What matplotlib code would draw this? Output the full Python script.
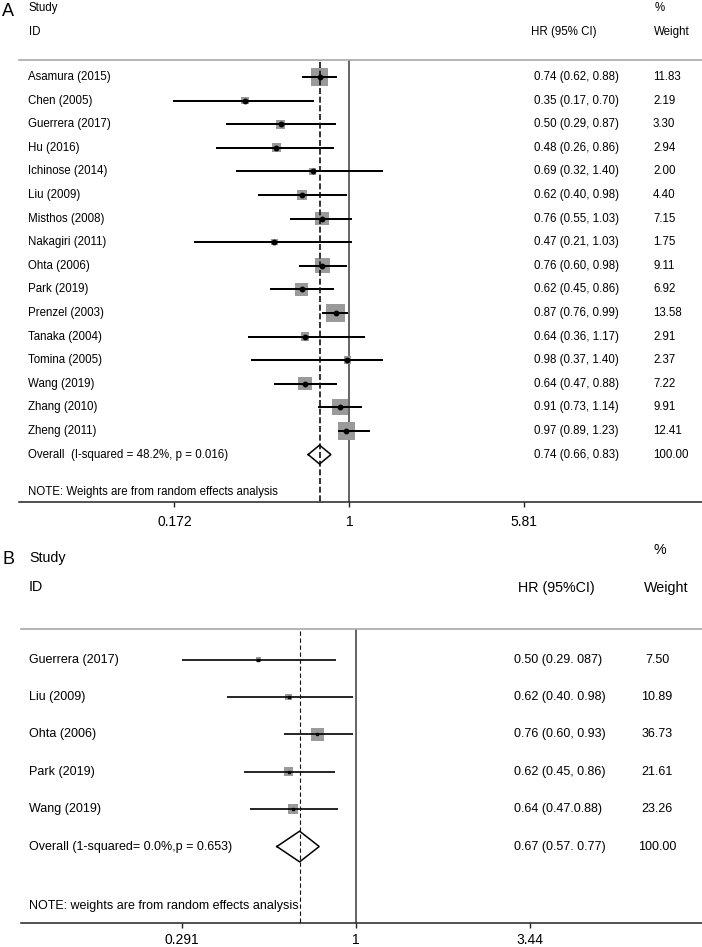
import matplotlib
matplotlib.use('Agg')
import matplotlib.pyplot as plt
from matplotlib.transforms import blended_transform_factory
from matplotlib.ticker import NullLocator, FixedLocator, FixedFormatter

plt.rcParams['font.family'] = ['Liberation Sans', 'DejaVu Sans']

W, H = 702, 947

# ---------------- Panel A data ----------------
a_studies = ["Asamura (2015)", "Chen (2005)", "Guerrera (2017)", "Hu (2016)",
             "Ichinose (2014)", "Liu (2009)", "Misthos (2008)", "Nakagiri (2011)",
             "Ohta (2006)", "Park (2019)", "Prenzel (2003)", "Tanaka (2004)",
             "Tomina (2005)", "Wang (2019)", "Zhang (2010)", "Zheng (2011)"]
a_hr = [0.74, 0.35, 0.50, 0.48, 0.69, 0.62, 0.76, 0.47, 0.76, 0.62, 0.87, 0.64, 0.98, 0.64, 0.91, 0.97]
a_lo = [0.62, 0.17, 0.29, 0.26, 0.32, 0.40, 0.55, 0.21, 0.60, 0.45, 0.76, 0.36, 0.37, 0.47, 0.73, 0.89]
a_hi = [0.88, 0.70, 0.87, 0.86, 1.40, 0.98, 1.03, 1.03, 0.98, 0.86, 0.99, 1.17, 1.40, 0.88, 1.14, 1.23]
a_weights = [11.83, 2.19, 3.30, 2.94, 2.00, 4.40, 7.15, 1.75, 9.11, 6.92, 13.58, 2.91, 2.37, 7.22, 9.91, 12.41]
a_ci_text = ["0.74 (0.62, 0.88)", "0.35 (0.17, 0.70)", "0.50 (0.29, 0.87)", "0.48 (0.26, 0.86)",
             "0.69 (0.32, 1.40)", "0.62 (0.40, 0.98)", "0.76 (0.55, 1.03)", "0.47 (0.21, 1.03)",
             "0.76 (0.60, 0.98)", "0.62 (0.45, 0.86)", "0.87 (0.76, 0.99)", "0.64 (0.36, 1.17)",
             "0.98 (0.37, 1.40)", "0.64 (0.47, 0.88)", "0.91 (0.73, 1.14)", "0.97 (0.89, 1.23)"]
a_overall_label = "Overall  (I-squared = 48.2%, p = 0.016)"
a_overall = [0.74, 0.66, 0.83]
a_overall_text = "0.74 (0.66, 0.83)"
a_overall_weight = "100.00"
a_note = "NOTE: Weights are from random effects analysis"
a_ticks = [0.172, 1, 5.81]
a_tick_labels = ["0.172", "1", "5.81"]

# ---------------- Panel B data ----------------
b_studies = ["Guerrera (2017)", "Liu (2009)", "Ohta (2006)", "Park (2019)", "Wang (2019)"]
b_hr = [0.50, 0.62, 0.76, 0.62, 0.64]
b_lo = [0.29, 0.40, 0.60, 0.45, 0.47]
b_hi = [0.87, 0.98, 0.98, 0.86, 0.88]
b_weights = [7.50, 10.89, 36.73, 21.61, 23.26]
b_ci_text = ["0.50 (0.29. 087)", "0.62 (0.40. 0.98)", "0.76 (0.60, 0.93)",
             "0.62 (0.45, 0.86)", "0.64 (0.47.0.88)"]
b_overall_label = "Overall (1-squared= 0.0%,p = 0.653)"
b_overall = [0.67, 0.57, 0.77]
b_overall_text = "0.67 (0.57. 0.77)"
b_overall_weight = "100.00"
b_note = "NOTE: weights are from random effects analysis"
b_ticks = [0.291, 1, 3.44]
b_tick_labels = ["0.291", "1", "3.44"]

fig = plt.figure(figsize=(W / 100, H / 100), dpi=100)


def fx(px):
    return px / W


def fy(py):
    return 1 - py / H


def make_axes(left, right, top, bottom):
    return fig.add_axes([fx(left), fy(bottom), (right - left) / W, (bottom - top) / H])


def panel(ax, studies, hr, lo, hi, weights, ci_text, ov, ov_label, ov_text, ov_w, note,
          ticks, tick_labels, cfg):
    import numpy as np
    ax.set_xscale('log')
    ax.set_xlim(cfg['xlim'])
    ax.set_ylim(cfg['ylim'])
    ax.set_facecolor('none')
    for s in ['left', 'right']:
        ax.spines[s].set_visible(False)
    ax.spines['top'].set_color('#a8a8a8')
    ax.spines['top'].set_linewidth(1.2)
    ax.spines['bottom'].set_color('#222222')
    ax.spines['bottom'].set_linewidth(1.1)
    ax.set_yticks([])
    ax.xaxis.set_major_locator(FixedLocator(ticks))
    ax.xaxis.set_major_formatter(FixedFormatter(tick_labels))
    ax.xaxis.set_minor_locator(NullLocator())
    ax.tick_params(axis='x', direction='out', length=3.6, width=1.0, color='#222222',
                   pad=cfg['pad'], labelsize=10)

    n = len(studies)
    rows = list(range(n))
    # reference lines
    ax.axvline(1, color='#3a3a3a', lw=1.1, zorder=1)
    ax.vlines(ov[0], cfg['dash_top'], cfg['ylim'][0], colors='#111111', lw=cfg['dash_lw'],
              linestyles=(0, cfg['dash']), zorder=4)
    # squares
    ax.scatter(hr, rows, s=[cfg['sq'] * w for w in weights], marker='s', color='#9a9a9a',
               edgecolors='none', zorder=2)
    # CI lines
    ax.hlines(rows, lo, hi, colors='black', lw=cfg['ci_lw'], zorder=3)
    # centre dots
    ax.plot(hr, rows, linestyle='none', marker=cfg['dot_marker'], ms=cfg['dot_ms'],
            color='black', zorder=5)
    # diamond
    yo = n
    h = cfg['dh']
    ax.plot([ov[1], ov[0], ov[2], ov[0], ov[1]], [yo, yo - h, yo, yo + h, yo],
            color='black', lw=1.1, zorder=4, solid_joinstyle='miter')

    tr = blended_transform_factory(fig.transFigure, ax.transData)
    fs = cfg['fs']
    for i in rows:
        ax.text(fx(cfg['x_lab']), i, studies[i], transform=tr, fontsize=fs, va='center', ha='left')
        ax.text(fx(cfg['x_ci']), i, ci_text[i], transform=tr, fontsize=fs, va='center', ha='left')
        ax.text(fx(cfg['x_w']), i, f"{weights[i]:.2f}", transform=tr, fontsize=fs, va='center',
                ha=cfg['w_ha'])
    ax.text(fx(cfg['x_lab']), yo, ov_label, transform=tr, fontsize=fs, va='center', ha='left')
    ax.text(fx(cfg['x_ci']), yo, ov_text, transform=tr, fontsize=fs, va='center', ha='left')
    ax.text(fx(cfg['x_w']), yo, ov_w, transform=tr, fontsize=fs, va='center', ha=cfg['w_ha'])
    ax.text(fx(cfg['x_lab']), cfg['note_row'], note, transform=tr, fontsize=fs, va='center',
            ha='left')


# ----- Panel A -----
axA = make_axes(19, 702, 60, 502)
cfgA = dict(xlim=(0.0360, 34.7), ylim=(18.01, -0.72), pad=6.0, dash_top=-0.64,
            dash=(3.6, 1.6), dash_lw=1.2, sq=12.96, ci_lw=1.45, dot_marker='o', dot_ms=3.2,
            dh=0.40, fs=8.3, x_lab=28, x_ci=534, x_w=653, w_ha='left', note_row=17.6)
panel(axA, a_studies, a_hr, a_lo, a_hi, a_weights, a_ci_text, a_overall, a_overall_label,
      a_overall_text, a_overall_weight, a_note, a_ticks, a_tick_labels, cfgA)

fig.text(fx(2), fy(11), "A", fontsize=13, va='center', ha='left')
fig.text(fx(29), fy(8), "Study", fontsize=8.3, va='center', ha='left')
fig.text(fx(655), fy(8), "%", fontsize=8.3, va='center', ha='left')
fig.text(fx(29), fy(32), "ID", fontsize=8.3, va='center', ha='left')
fig.text(fx(531), fy(32), "HR (95% CI)", fontsize=8.3, va='center', ha='left')
fig.text(fx(654), fy(32), "Weight", fontsize=8.3, va='center', ha='left')

# ----- Panel B -----
axB = make_axes(21, 702, 629, 923)
cfgB = dict(xlim=(0.0927, 11.66), ylim=(7.045, -0.816), pad=3.6, dash_top=-0.76,
            dash=(3.9, 2.4), dash_lw=0.8, sq=2.18, ci_lw=1.2, dot_marker='s', dot_ms=2.0,
            dh=0.41, fs=9, x_lab=29, x_ci=514, x_w=657, w_ha='center', note_row=6.59)
panel(axB, b_studies, b_hr, b_lo, b_hi, b_weights, b_ci_text, b_overall, b_overall_label,
      b_overall_text, b_overall_weight, b_note, b_ticks, b_tick_labels, cfgB)

fig.text(fx(2), fy(559), "B", fontsize=13, va='center', ha='left')
fig.text(fx(29), fy(558), "Study", fontsize=10.3, va='center', ha='left')
fig.text(fx(654), fy(550), "%", fontsize=10.3, va='center', ha='left')
fig.text(fx(29), fy(587), "ID", fontsize=10.3, va='center', ha='left')
fig.text(fx(518), fy(588), "HR (95%CI)", fontsize=10.3, va='center', ha='left')
fig.text(fx(644), fy(588), "Weight", fontsize=10.3, va='center', ha='left')

fig.savefig("out.png", dpi=100, facecolor='white')
